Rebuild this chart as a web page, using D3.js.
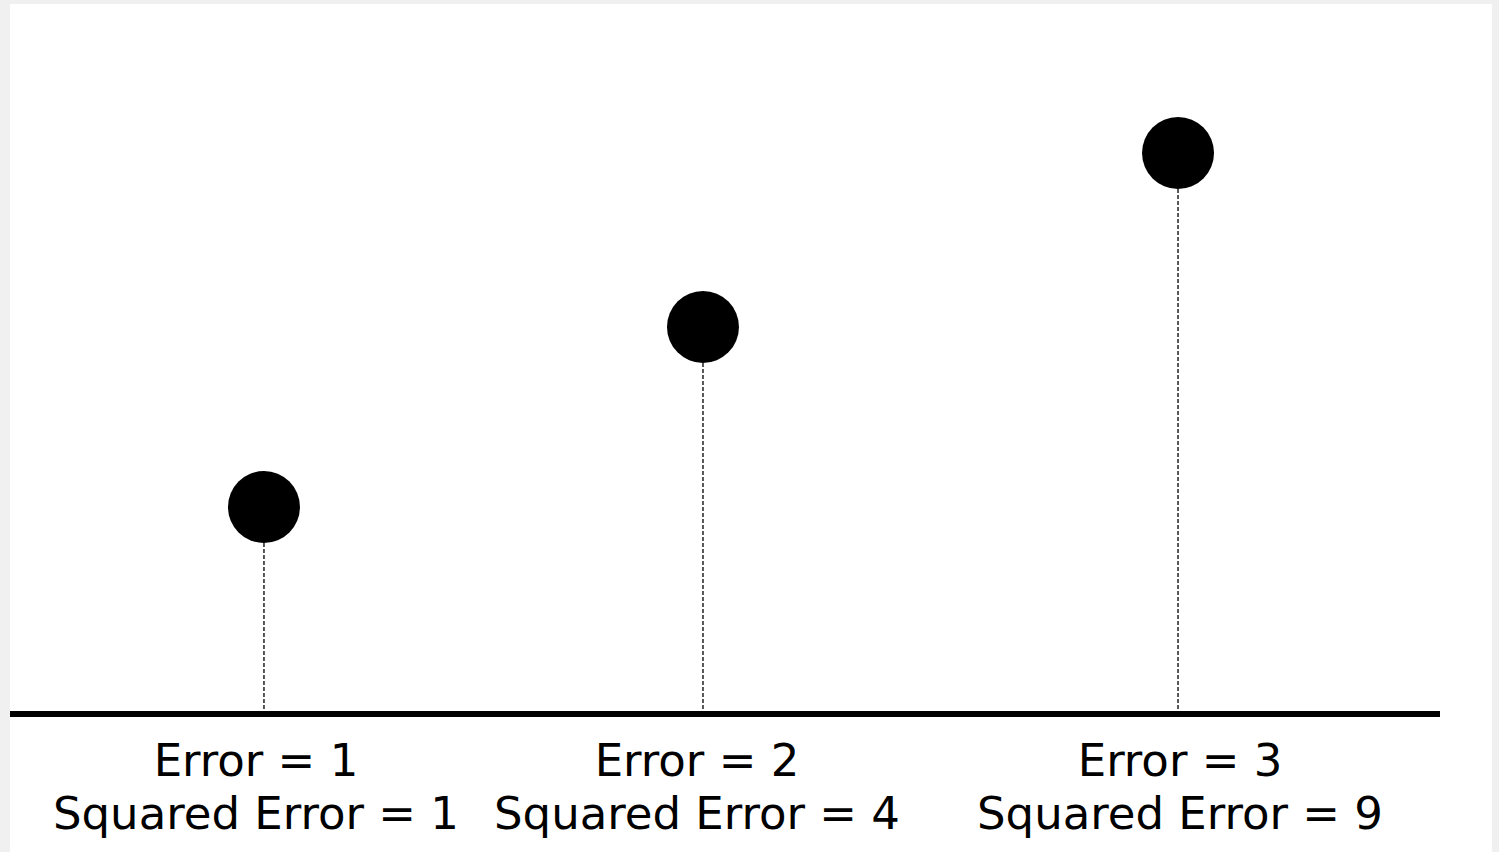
<!DOCTYPE html>
<html>
<head>
<meta charset="utf-8">
<script src="https://cdn.jsdelivr.net/npm/d3@7"></script>
<style>
  html, body { margin: 0; padding: 0; background: #f0f0f0; }
  svg { display: block; }
</style>
</head>
<body>
<script>
// Data
const errors = [1, 2, 3];
const squaredErrors = [1, 4, 9];
const pointHeights = [1.107, 2.07, 3.0];          // visual height of each point (arbitrary units)
const pointPositions = [0.1776, 0.4846, 0.8168];  // horizontal position along the axis (0..1)
const labelPositions = [0.172, 0.4804, 0.8182];   // horizontal centre of each label (0..1)
const labelLine1 = errors.map(e => `Error = ${e}`);
const labelLine2 = squaredErrors.map(s => `Squared Error = ${s}`);

const W = 1499, H = 852;
const svg = d3.select("body").append("svg").attr("width", W).attr("height", H);

// white panel
svg.append("rect").attr("x", 10).attr("y", 4).attr("width", 1482).attr("height", H - 4).attr("fill", "#ffffff");

const x = d3.scaleLinear().domain([0, 1]).range([10, 1440]);
const y = d3.scaleLinear().domain([0, 3]).range([714, 153]);

const data = errors.map((e, i) => ({
  pos: pointPositions[i], lpos: labelPositions[i], h: pointHeights[i], l1: labelLine1[i], l2: labelLine2[i]
}));

const r = 36;

// dashed stems
svg.selectAll("line.stem").data(data).enter().append("line")
  .attr("class", "stem")
  .attr("x1", d => x(d.pos)).attr("x2", d => x(d.pos))
  .attr("y1", d => y(d.h) + r).attr("y2", y(0))
  .attr("stroke", "#222").attr("stroke-width", 1.5)
  .attr("stroke-dasharray", "4,2");

// baseline axis
svg.append("line")
  .attr("x1", x(0)).attr("x2", x(1))
  .attr("y1", y(0)).attr("y2", y(0))
  .attr("stroke", "#000").attr("stroke-width", 6);

// points
svg.selectAll("circle.pt").data(data).enter().append("circle")
  .attr("class", "pt")
  .attr("cx", d => x(d.pos)).attr("cy", d => y(d.h)).attr("r", r)
  .attr("fill", "#000");

// labels
const lab = svg.selectAll("text.lab").data(data).enter().append("text")
  .attr("class", "lab")
  .attr("text-anchor", "middle")
  .attr("font-family", "'DejaVu Sans', Verdana, sans-serif")
  .attr("font-size", 45)
  .attr("fill", "#000");
lab.append("tspan").attr("x", d => x(d.lpos)).attr("y", 776).text(d => d.l1);
lab.append("tspan").attr("x", d => x(d.lpos)).attr("y", 829).text(d => d.l2);
</script>
</body>
</html>
